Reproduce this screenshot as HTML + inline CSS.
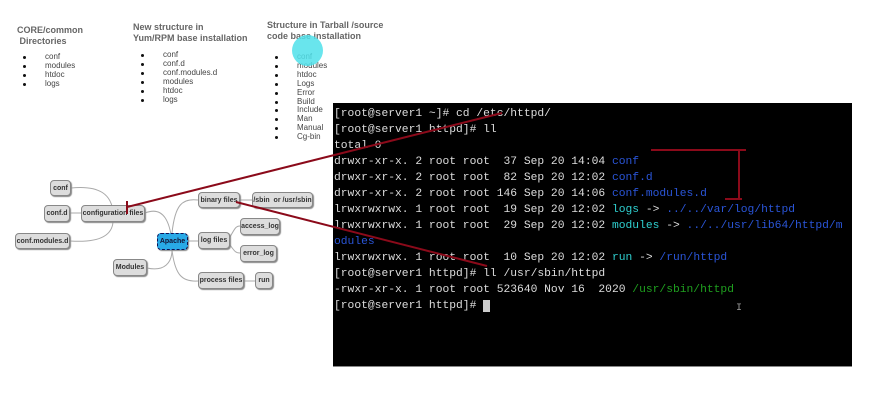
<!DOCTYPE html>
<html><head><meta charset="utf-8"><style>
body{margin:0;width:880px;height:409px;background:#fff;position:relative;overflow:hidden;font-family:"Liberation Sans",sans-serif}
.h{position:absolute;font-weight:bold;font-size:9px;color:#666;line-height:11px}
ul{position:absolute;margin:0;padding:0;list-style:none;font-size:8px;color:#444;line-height:8.9px}
ul li{padding-left:22px;position:relative}
ul li:before{content:"";position:absolute;left:0;top:3px;width:3px;height:3px;border-radius:50%;background:#111}
.n{position:absolute;background:#ddd;border:1px solid #888;border-radius:4px;box-shadow:1px 1px 1px #888;font-size:7px;font-weight:bold;color:#333;text-align:center;box-sizing:border-box;display:flex;align-items:center;justify-content:center;white-space:nowrap}
#term{position:absolute;left:333px;top:103px;width:519px;height:263px;background:#000;border-bottom:1px solid #888}
pre{margin:0;position:absolute;left:1px;top:3px;font-family:"Liberation Mono",monospace;font-size:11.3px;line-height:16px;color:#ddd}
.b{color:#2a55d8}.c{color:#2fd0d0}.g{color:#1fa01f}
</style></head><body>
<div class="h" style="left:17px;top:25px">CORE/common<br>&nbsp;Directories</div>
<ul style="left:23px;top:53px"><li>conf</li><li>modules</li><li>htdoc</li><li>logs</li></ul>
<div class="h" style="left:133px;top:22px">New structure in<br>Yum/RPM base installation</div>
<ul style="left:141px;top:51px"><li>conf</li><li>conf.d</li><li>conf.modules.d</li><li>modules</li><li>htdoc</li><li>logs</li></ul>
<div class="h" style="left:267px;top:20px">Structure in Tarball /source<br>code base installation</div>
<ul style="left:275px;top:53px"><li>conf</li><li>modules</li><li>htdoc</li><li>Logs</li><li>Error</li><li>Build</li><li>Include</li><li>Man</li><li>Manual</li><li>Cg-bin</li></ul>
<div style="position:absolute;left:292px;top:35px;width:31px;height:31px;border-radius:50%;background:#4fe0ea;opacity:.85"></div>

<svg style="position:absolute;left:0;top:0" width="880" height="409">
<g fill="none" stroke="#aaa" stroke-width="1">
<path d="M71 188 C100 185 112 195 113 213"/>
<path d="M70 213 H81"/>
<path d="M70 241 C100 243 112 235 113 222"/>
<path d="M145 213 C165 205 170 225 172 241"/>
<path d="M147 268 C165 272 172 262 172 250"/>
<path d="M172 233 C175 205 182 198 198 200"/>
<path d="M188 241 H198"/>
<path d="M172 250 C175 275 182 282 198 281"/>
<path d="M240 200 H252"/>
<path d="M230 237 C235 228 236 226 240 226"/>
<path d="M230 245 C235 252 236 253 240 253"/>
<path d="M244 281 H255"/>
</g>
</svg>
<div class="n" style="left:50px;top:180px;width:21px;height:16px">conf</div>
<div class="n" style="left:44px;top:205px;width:26px;height:17px">conf.d</div>
<div class="n" style="left:81px;top:205px;width:64px;height:17px">configuration files</div>
<div class="n" style="left:15px;top:233px;width:55px;height:16px">conf.modules.d</div>
<div class="n" style="left:157px;top:233px;width:31px;height:17px;background:#29a9e6;border:1px dashed #115;color:#113">Apache</div>
<div class="n" style="left:113px;top:259px;width:34px;height:17px">Modules</div>
<div class="n" style="left:198px;top:192px;width:42px;height:16px">binary files</div>
<div class="n" style="left:252px;top:192px;width:61px;height:16px">/sbin &nbsp;or /usr/sbin</div>
<div class="n" style="left:198px;top:232px;width:32px;height:17px">log files</div>
<div class="n" style="left:240px;top:218px;width:40px;height:17px">access_log</div>
<div class="n" style="left:240px;top:245px;width:37px;height:17px">error_log</div>
<div class="n" style="left:198px;top:272px;width:46px;height:17px">process files</div>
<div class="n" style="left:255px;top:272px;width:18px;height:17px">run</div>

<div id="term"><pre>[root@server1 ~]# cd /etc/httpd/
[root@server1 httpd]# ll
total 0
drwxr-xr-x. 2 root root  37 Sep 20 14:04 <span class="b">conf</span>
drwxr-xr-x. 2 root root  82 Sep 20 12:02 <span class="b">conf.d</span>
drwxr-xr-x. 2 root root 146 Sep 20 14:06 <span class="b">conf.modules.d</span>
lrwxrwxrwx. 1 root root  19 Sep 20 12:02 <span class="c">logs</span> -&gt; <span class="b">../../var/log/httpd</span>
lrwxrwxrwx. 1 root root  29 Sep 20 12:02 <span class="c">modules</span> -&gt; <span class="b">../../usr/lib64/httpd/m
odules</span>
lrwxrwxrwx. 1 root root  10 Sep 20 12:02 <span class="c">run</span> -&gt; <span class="b">/run/httpd</span>
[root@server1 httpd]# ll /usr/sbin/httpd
-rwxr-xr-x. 1 root root 523640 Nov 16  2020 <span class="g">/usr/sbin/httpd</span>
[root@server1 httpd]# <span style="background:#ccc">&nbsp;</span></pre></div>

<svg style="position:absolute;left:0;top:0" width="880" height="409">
<g stroke="#8b0a1a" stroke-width="2" fill="none">
<line x1="502" y1="113" x2="127" y2="207"/>
<line x1="127" y1="201" x2="127" y2="214"/>
<line x1="236" y1="202" x2="487" y2="266"/>
<polyline points="651,150 746,150"/>
<line x1="739" y1="150" x2="739" y2="200"/>
<line x1="725" y1="199" x2="742" y2="199"/>
</g>
<text x="736" y="310" fill="#999" font-size="10" font-family="Liberation Mono">I</text>
</svg>
</body></html>
